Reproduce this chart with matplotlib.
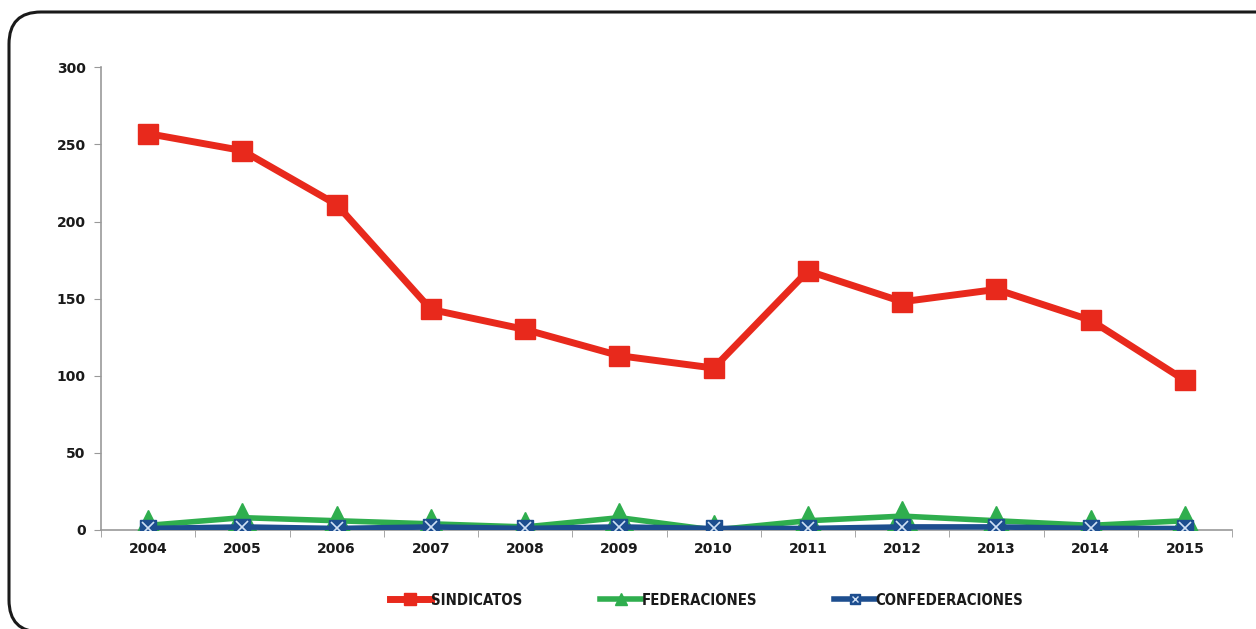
import matplotlib
matplotlib.use("Agg")
import matplotlib.pyplot as plt
from matplotlib.patches import FancyBboxPatch
from matplotlib.legend_handler import HandlerTuple
from matplotlib.lines import Line2D

years = ["2004", "2005", "2006", "2007", "2008", "2009", "2010", "2011", "2012", "2013", "2014", "2015"]
sindicatos = [257, 246, 211, 143, 130, 113, 105, 168, 148, 156, 136, 97]
federaciones = [3, 8, 6, 4, 2, 8, 0, 6, 9, 6, 3, 6]
confederaciones = [1, 2, 1, 2, 1, 2, 1, 1, 2, 2, 1, 1]
yticks = [0, 50, 100, 150, 200, 250, 300]

RED = "#e8291c"
GREEN = "#2fae4e"
BLUE = "#1d4e8f"

fig = plt.figure(figsize=(12.56, 6.29), dpi=100)
fig.patch.set_facecolor("white")

box = FancyBboxPatch((0.09, -0.03), 13.0, 6.20, boxstyle="round,pad=0,rounding_size=0.32",
                     transform=fig.dpi_scale_trans, facecolor="none", edgecolor="#1a1a1a",
                     linewidth=2.2)
fig.patches.append(box)

ax = fig.add_axes([0.0804, 0.1574, 0.9006, 0.7356])
x = list(range(len(years)))

ax.plot(x, sindicatos, color=RED, linewidth=5, marker="s", markersize=14.5,
        markerfacecolor=RED, markeredgecolor=RED, zorder=3)
ax.plot(x, federaciones, color=GREEN, linewidth=4, marker="^", markersize=21,
        markerfacecolor=GREEN, markeredgecolor=GREEN, zorder=4)
ax.plot(x, confederaciones, color=BLUE, linewidth=4, marker="s", markersize=12,
        markerfacecolor=BLUE, markeredgecolor=BLUE, zorder=5)
ax.plot(x, confederaciones, linestyle="none", marker="x", markersize=9,
        markeredgecolor="#cfe0f5", markeredgewidth=1.2, zorder=6)

ax.set_xlim(-0.5, len(years) - 0.5)
ax.set_ylim(0, 300)
ax.set_yticks(yticks)
ax.set_yticklabels([str(v) for v in yticks], fontsize=10, fontweight="bold", color="#1a1a1a")
ax.set_xticks(x)
ax.set_xticklabels(years, fontsize=10, fontweight="bold", color="#1a1a1a")
ax.set_xticks([i + 0.5 for i in range(-1, len(years))], minor=True)
ax.tick_params(axis="x", which="major", length=0, pad=9)
ax.tick_params(axis="x", which="minor", length=5, color="#999999", direction="out")
ax.tick_params(axis="y", length=5, color="#999999", direction="out", pad=6)

for s in ["top", "right"]:
    ax.spines[s].set_visible(False)
for s in ["left", "bottom"]:
    ax.spines[s].set_color("#999999")
    ax.spines[s].set_linewidth(1.2)

h1 = Line2D([], [], color=RED, linewidth=5, marker="s", markersize=8, markerfacecolor=RED, markeredgecolor=RED)
h2 = Line2D([], [], color=GREEN, linewidth=4, marker="^", markersize=8, markerfacecolor=GREEN, markeredgecolor=GREEN)
h3 = Line2D([], [], color=BLUE, linewidth=4, marker="s", markersize=7, markerfacecolor=BLUE, markeredgecolor=BLUE)
h3x = Line2D([], [], linestyle="none", marker="x", markersize=5, markeredgecolor="#cfe0f5", markeredgewidth=1)

leg = fig.legend([h1, h2, (h3, h3x)], ["SINDICATOS", "FEDERACIONES", "CONFEDERACIONES"],
                 handler_map={tuple: HandlerTuple(ndivide=1)},
                 loc="center", bbox_to_anchor=(0.5625, 0.046), ncol=3, frameon=False,
                 handlelength=2.8, handletextpad=0.0, columnspacing=5.2,
                 prop={"family": "DejaVu Sans", "size": 10.7, "stretch": "condensed", "weight": "bold"})
for t in leg.get_texts():
    t.set_color("#1a1a1a")

fig.savefig("out.png", dpi=100)
